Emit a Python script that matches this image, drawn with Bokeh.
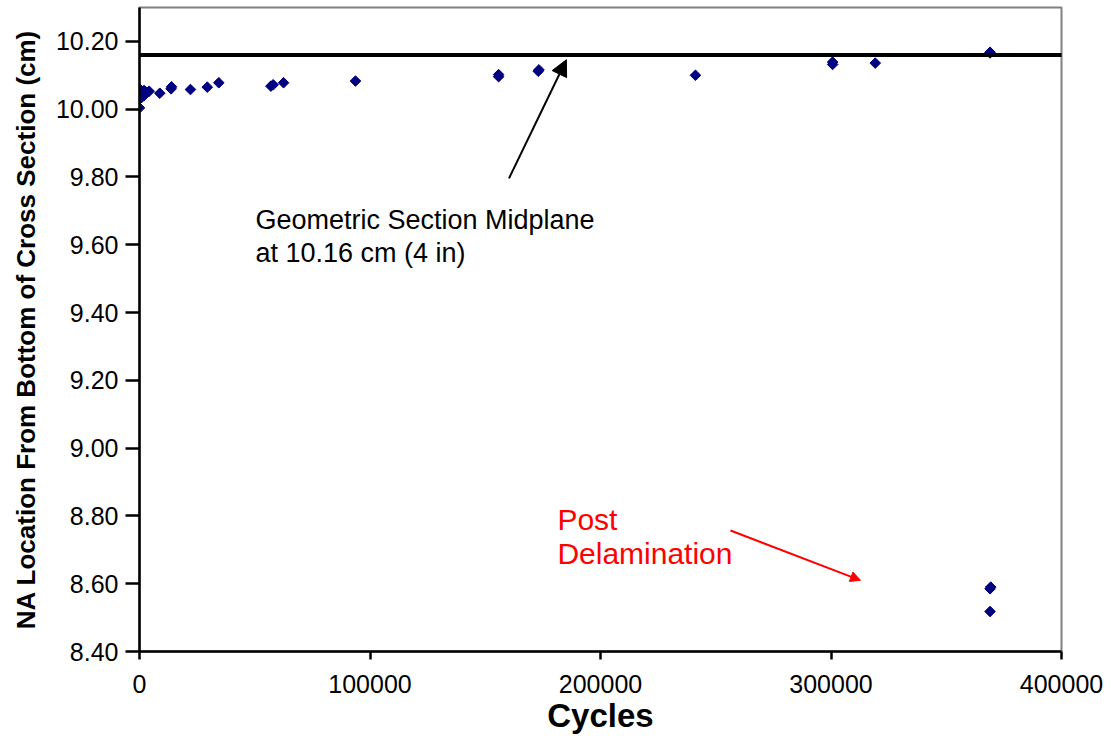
import math
from bokeh.plotting import figure
from bokeh.models import (FixedTicker, NumeralTickFormatter, Arrow, NormalHead,
                          ColumnDataSource)
from bokeh.core.properties import value
from bokeh.embed import file_html
from bokeh.resources import INLINE

# ---- data ----
cycles = [0, 0, 0, 0, 1000, 1000, 2000, 2000, 3000, 4200,
          8800, 13700, 13900, 22100, 29400, 34400, 57000, 58000, 62500, 93700,
          155800, 155800, 173000, 173300, 241200, 300700, 300700, 319200,
          369000, 369000, 369000, 369300, 369000]
na_location = [10.004, 10.030, 10.045, 10.060, 10.035, 10.050, 10.040, 10.055, 10.050, 10.053,
               10.047, 10.060, 10.066, 10.058, 10.065, 10.078, 10.068, 10.072, 10.078, 10.083,
               10.096, 10.102, 10.112, 10.116, 10.100, 10.132, 10.139, 10.136,
               10.168, 10.166, 8.585, 8.590, 8.518]

midplane = 10.16
x_ticks = [0, 100000, 200000, 300000, 400000]
y_ticks = [8.40, 8.60, 8.80, 9.00, 9.20, 9.40, 9.60, 9.80, 10.00, 10.20]

note1_lines = ["Geometric Section Midplane", "at 10.16 cm (4 in)"]
note1_x = [50300, 50300]
note1_y = [9.672, 9.577]
arrow1 = dict(x0=160300, y0=9.796, x1=185200, y1=10.146)

note2_lines = ["Post", "Delamination"]
note2_x = [181300, 181300]
note2_y = [8.790, 8.688]
arrow2 = dict(x0=256400, y0=8.757, x1=312800, y1=8.610)

FONT = "Liberation Sans"

p = figure(width=1111, height=744, x_range=(0, 400000), y_range=(8.4, 10.3),
           output_backend="svg", toolbar_location=None,
           min_border_left=139, min_border_right=50,
           min_border_top=7, min_border_bottom=93)
p.background_fill_color = "white"
p.border_fill_color = "white"
p.outline_line_color = "#808080"
p.outline_line_width = 2
p.xgrid.visible = False
p.ygrid.visible = False

# axes
p.xaxis.ticker = FixedTicker(ticks=x_ticks)
p.yaxis.ticker = FixedTicker(ticks=y_ticks)
p.xaxis.formatter = NumeralTickFormatter(format="0")
p.yaxis.formatter = NumeralTickFormatter(format="0.00")
for ax in (p.xaxis, p.yaxis):
    ax.axis_line_color = "black"
    ax.axis_line_width = 2.5
    ax.major_tick_line_color = "black"
    ax.major_tick_line_width = 2.5
    ax.major_tick_in = 0
    ax.minor_tick_line_color = None
    ax.major_label_text_font = FONT
    ax.major_label_text_font_size = "25px"
    ax.major_label_text_color = "black"
    ax.axis_label_text_font = FONT
    ax.axis_label_text_font_style = "bold"
    ax.axis_label_text_color = "black"
p.xaxis.major_tick_out = 8
p.yaxis.major_tick_out = 14
p.xaxis.major_label_standoff = 15
p.yaxis.major_label_standoff = 7
p.xaxis.axis_label = "Cycles"
p.xaxis.axis_label_text_font_size = "33px"
p.xaxis.axis_label_standoff = 1
p.yaxis.axis_label = "NA Location From Bottom of Cross Section (cm)"
p.yaxis.axis_label_text_font_size = "26px"
p.yaxis.axis_label_standoff = 12

# midplane line (extends slightly past the plot frame, as in the reference)
p.add_layout(Arrow(end=None, x_start=0, y_start=midplane, x_end=404300, y_end=midplane,
                   line_color="black", line_width=4))

# data points
src = ColumnDataSource(dict(x=cycles, y=na_location))
p.scatter("x", "y", source=src, marker="square", size=7.5, angle=math.pi / 4,
          fill_color="#000080", line_color="#000080", line_width=1)

# annotations
p.text(x=note1_x, y=note1_y, text=note1_lines, text_font=value(FONT),
       text_font_size="27px", text_color="black", text_baseline="middle", text_align="left")
p.add_layout(Arrow(end=NormalHead(size=16, fill_color="black", line_color="black"),
                   x_start=arrow1["x0"], y_start=arrow1["y0"],
                   x_end=arrow1["x1"], y_end=arrow1["y1"],
                   line_color="black", line_width=2))
p.text(x=note2_x, y=note2_y, text=note2_lines, text_font=value(FONT),
       text_font_size="30px", text_color="#FF0000", text_baseline="middle", text_align="left")
p.add_layout(Arrow(end=NormalHead(size=10, fill_color="#FF0000", line_color="#FF0000"),
                   x_start=arrow2["x0"], y_start=arrow2["y0"],
                   x_end=arrow2["x1"], y_end=arrow2["y1"],
                   line_color="#FF0000", line_width=2))

open("out.html", "w").write(file_html(p, INLINE))
